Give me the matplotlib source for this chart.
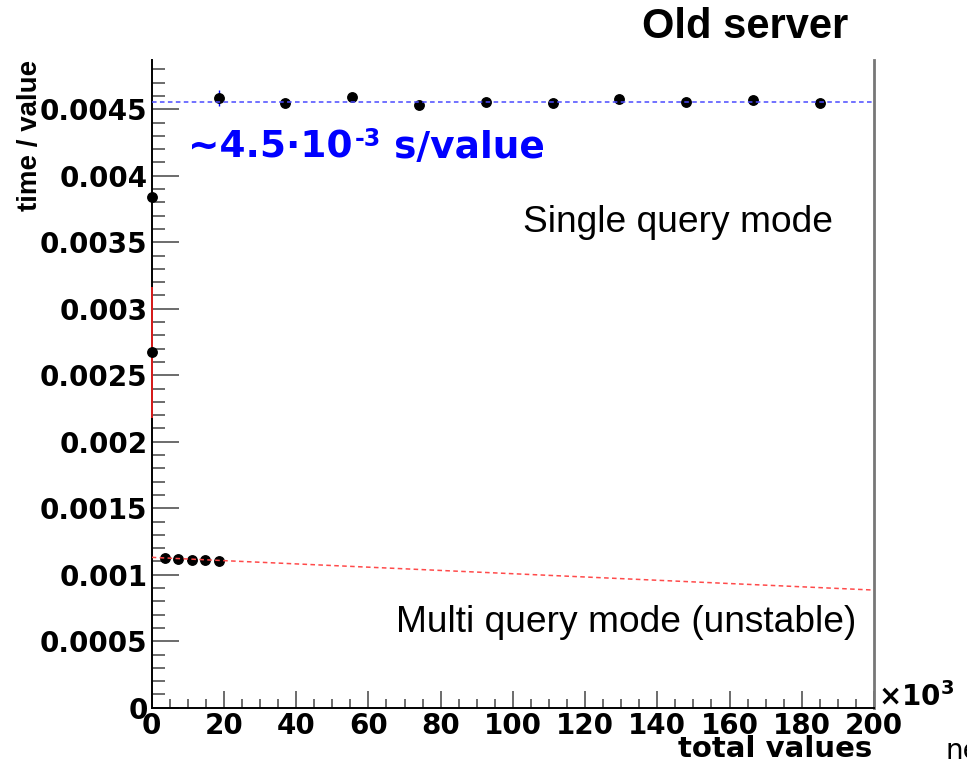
import numpy as np
import matplotlib.pyplot as plt
from matplotlib.ticker import MultipleLocator, FuncFormatter

# total values (x 10^3) and time per value [s]
single_x = [0.0, 18.5, 37.0, 55.5, 74.0, 92.5, 111.0, 129.5, 148.0, 166.5, 185.0]
single_y = [3.84e-3, 4.585e-3, 4.546e-3, 4.592e-3, 4.531e-3, 4.554e-3,
            4.546e-3, 4.577e-3, 4.554e-3, 4.569e-3, 4.546e-3]
single_err = [0.0, 0.06e-3, 0.012e-3, 0.03e-3, 0.012e-3, 0.012e-3,
              0.012e-3, 0.015e-3, 0.012e-3, 0.012e-3, 0.012e-3]

multi_x = [0.0, 3.7, 7.4, 11.1, 14.8, 18.5]
multi_y = [2.672e-3, 1.126e-3, 1.121e-3, 1.112e-3, 1.110e-3, 1.104e-3]
multi_err = [0.49e-3, 0.0, 0.0, 0.0, 0.0, 0.0]

# fitted lines (end points)
fit_x = [0.0, 200.0]
single_fit_y = [4.553e-3, 4.553e-3]
multi_fit_y = [1.131e-3, 0.885e-3]

ytick_vals = [0, 0.0005, 0.001, 0.0015, 0.002, 0.0025, 0.003, 0.0035, 0.004, 0.0045]

fig = plt.figure(figsize=(9.67, 7.6), dpi=100)
ax = fig.add_axes([151.7 / 967, 1 - 707.8 / 760, (874 - 151.7) / 967, (707.8 - 60) / 760])

ax.errorbar(single_x, single_y, yerr=single_err, fmt="o", color="black",
            ms=6.8, ecolor="#0000ff", elinewidth=1.0, capsize=0,
            clip_on=False, zorder=3)
ax.errorbar(multi_x, multi_y, yerr=multi_err, fmt="o", color="black",
            ms=6.8, ecolor="#ff2020", elinewidth=1.2, capsize=0,
            clip_on=False, zorder=3)

ax.plot(fit_x, single_fit_y, color="#4a4aff", lw=1.1, ls=(0, (3, 2.2)), zorder=4)
ax.plot(fit_x, multi_fit_y, color="#ff4a4a", lw=1.1, ls=(0, (3, 2.2)), zorder=4)

ax.set_xlim(0, 200)
ax.set_ylim(0, 0.00487)

ax.xaxis.set_major_locator(MultipleLocator(20))
ax.xaxis.set_minor_locator(MultipleLocator(5))
ax.set_yticks(ytick_vals)
ax.yaxis.set_minor_locator(MultipleLocator(0.0001))
ax.yaxis.set_major_formatter(FuncFormatter(lambda v, p: "0" if v == 0 else f"{v:g}"))

ax.tick_params(axis="both", which="both", direction="in", color="#444444", width=1.1,
               labelsize=20)
ax.tick_params(axis="y", which="major", length=19.5, pad=3)
ax.tick_params(axis="y", which="minor", length=9.5)
ax.tick_params(axis="x", which="major", length=12.2, pad=3)
ax.tick_params(axis="x", which="minor", length=6.5)
for lab in ax.get_xticklabels() + ax.get_yticklabels():
    lab.set_fontweight("bold")
    lab.set_family("DejaVu Sans")

ax.spines["top"].set_visible(False)
ax.spines["left"].set_linewidth(1.4)
ax.spines["bottom"].set_linewidth(1.4)
ax.spines["right"].set_color("#777777")
ax.spines["right"].set_linewidth(2.0)

# axis titles, ROOT style
fig.text(872 / 967, 1 - 757 / 760, "total values", ha="right", va="baseline",
         fontsize=21, fontweight="bold", family="DejaVu Sans")
fig.text(30 / 967, 1 - 60 / 760, "time / value", rotation=90, ha="center", va="top",
         fontsize=20, fontweight="bold", family="Liberation Sans")
fig.text(878 / 967, 1 - 706 / 760, r"$\mathbf{\times 10^{3}}$", ha="left", va="baseline",
         fontsize=20)
fig.text(946 / 967, 1 - 759 / 760, "ne", ha="left", va="baseline",
         fontsize=20, family="DejaVu Sans")

# annotations
fig.text(745 / 967, 1 - 27 / 760, "Old server", ha="center", va="center",
         fontsize=30, fontweight="bold", family="Liberation Sans")
blue_a = fig.text(188 / 967, 1 - 158 / 760, "~4.5·10", ha="left",
                  va="baseline", fontsize=27, fontweight="bold", color="#0000ff",
                  family="DejaVu Sans")
blue_b = ax.annotate("-3", xy=(1, 1), xycoords=blue_a, xytext=(1.5, 2.5),
                     textcoords="offset points", ha="left", va="top",
                     fontsize=17, fontweight="bold", color="#0000ff",
                     family="DejaVu Sans", annotation_clip=False)
ax.annotate(" s/value", xy=(1, 0), xycoords=(blue_b, blue_a), xytext=(0, 0),
            textcoords="offset points", ha="left", va="bottom",
            fontsize=27, fontweight="bold", color="#0000ff",
            family="DejaVu Sans", annotation_clip=False)
fig.text(523 / 967, 1 - 222 / 760, "Single query mode", ha="left", va="center",
         fontsize=26.7, family="Liberation Sans")
fig.text(396 / 967, 1 - 623 / 760, "Multi query mode (unstable)", ha="left", va="center",
         fontsize=26.7, family="Liberation Sans")

fig.savefig("out.png", dpi=100)
